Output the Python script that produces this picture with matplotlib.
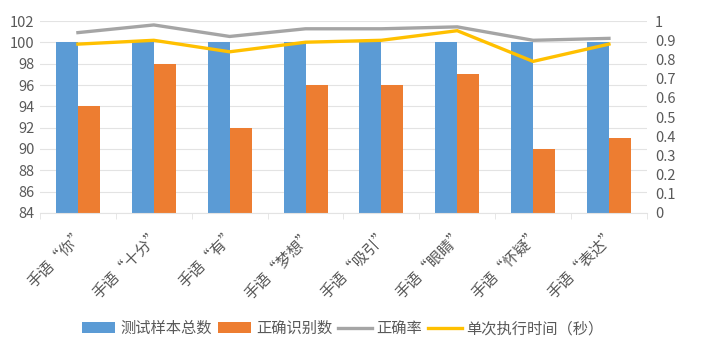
import numpy as np
import matplotlib
matplotlib.use('Agg')
import matplotlib.pyplot as plt
from matplotlib import ticker

plt.rcParams['font.family'] = ['Noto Sans CJK SC', 'DejaVu Sans']

# data
categories = ['手语“你”', '手语“十分”', '手语“有”', '手语“梦想”',
              '手语“吸引”', '手语“眼睛”', '手语“怀疑”', '手语“表达”']
total_samples = [100, 100, 100, 100, 100, 100, 100, 100]
correct_counts = [94, 98, 92, 96, 96, 97, 90, 91]
accuracy = [0.94, 0.98, 0.92, 0.96, 0.96, 0.97, 0.90, 0.91]
exec_time = [0.88, 0.90, 0.84, 0.89, 0.90, 0.95, 0.79, 0.88]

BLUE = '#5B9BD5'
ORANGE = '#ED7D31'
GRAY = '#A5A5A5'
YELLOW = '#FFC000'
TEXT = '#595959'

fig = plt.figure(figsize=(7.14, 3.64), dpi=100)
ax = fig.add_axes([0.056, 0.415, 0.85, 0.527])

x = np.arange(len(categories))
w = 0.29

ax.bar(x - w / 2, total_samples, w, color=BLUE, zorder=2, label='测试样本总数')
ax.bar(x + w / 2, correct_counts, w, color=ORANGE, zorder=2, label='正确识别数')

ax.set_ylim(84, 102)
ax.set_xlim(-0.5, len(categories) - 0.5)
ax.yaxis.set_major_locator(ticker.MultipleLocator(2))
ax.grid(axis='y', color='#E3E3E3', linewidth=0.8, zorder=0)
ax.set_axisbelow(True)

for side in ['top', 'right', 'left']:
    ax.spines[side].set_visible(False)
ax.spines['bottom'].set_color('#E3E3E3')

ax.set_xticks(x)
ax.set_xticklabels(categories, rotation=45, ha='right', rotation_mode='anchor',
                   fontsize=11, color=TEXT)
ax.xaxis.set_minor_locator(ticker.FixedLocator(np.arange(-0.5, len(categories), 1)))
ax.tick_params(axis='x', which='major', length=0, pad=9)
ax.tick_params(axis='x', which='minor', length=4, color='#E3E3E3')
ax.tick_params(axis='y', length=0, labelsize=10.5, labelcolor=TEXT, pad=4)

ax2 = ax.twinx()
ax2.plot(x, accuracy, color=GRAY, linewidth=2.4, label='正确率',
         solid_joinstyle='miter')
ax2.plot(x, exec_time, color=YELLOW, linewidth=2.4, label='单次执行时间（秒）',
         solid_joinstyle='miter')
ax2.set_ylim(0, 1)
ax2.yaxis.set_major_locator(ticker.MultipleLocator(0.1))
ax2.yaxis.set_major_formatter(ticker.FuncFormatter(lambda v, p: f'{v:g}'))
ax2.tick_params(axis='y', length=0, labelsize=10.5, labelcolor=TEXT, pad=6)
for side in ['top', 'right', 'left', 'bottom']:
    ax2.spines[side].set_visible(False)

h1, l1 = ax.get_legend_handles_labels()
h2, l2 = ax2.get_legend_handles_labels()
fig.legend(h1 + h2, l1 + l2, loc='center', bbox_to_anchor=(0.48, 0.097),
           ncol=4, frameon=False, fontsize=11, handlelength=2.2,
           handletextpad=0.3, columnspacing=0.4, labelcolor=TEXT)

fig.savefig('out.png', dpi=100, facecolor='white')
